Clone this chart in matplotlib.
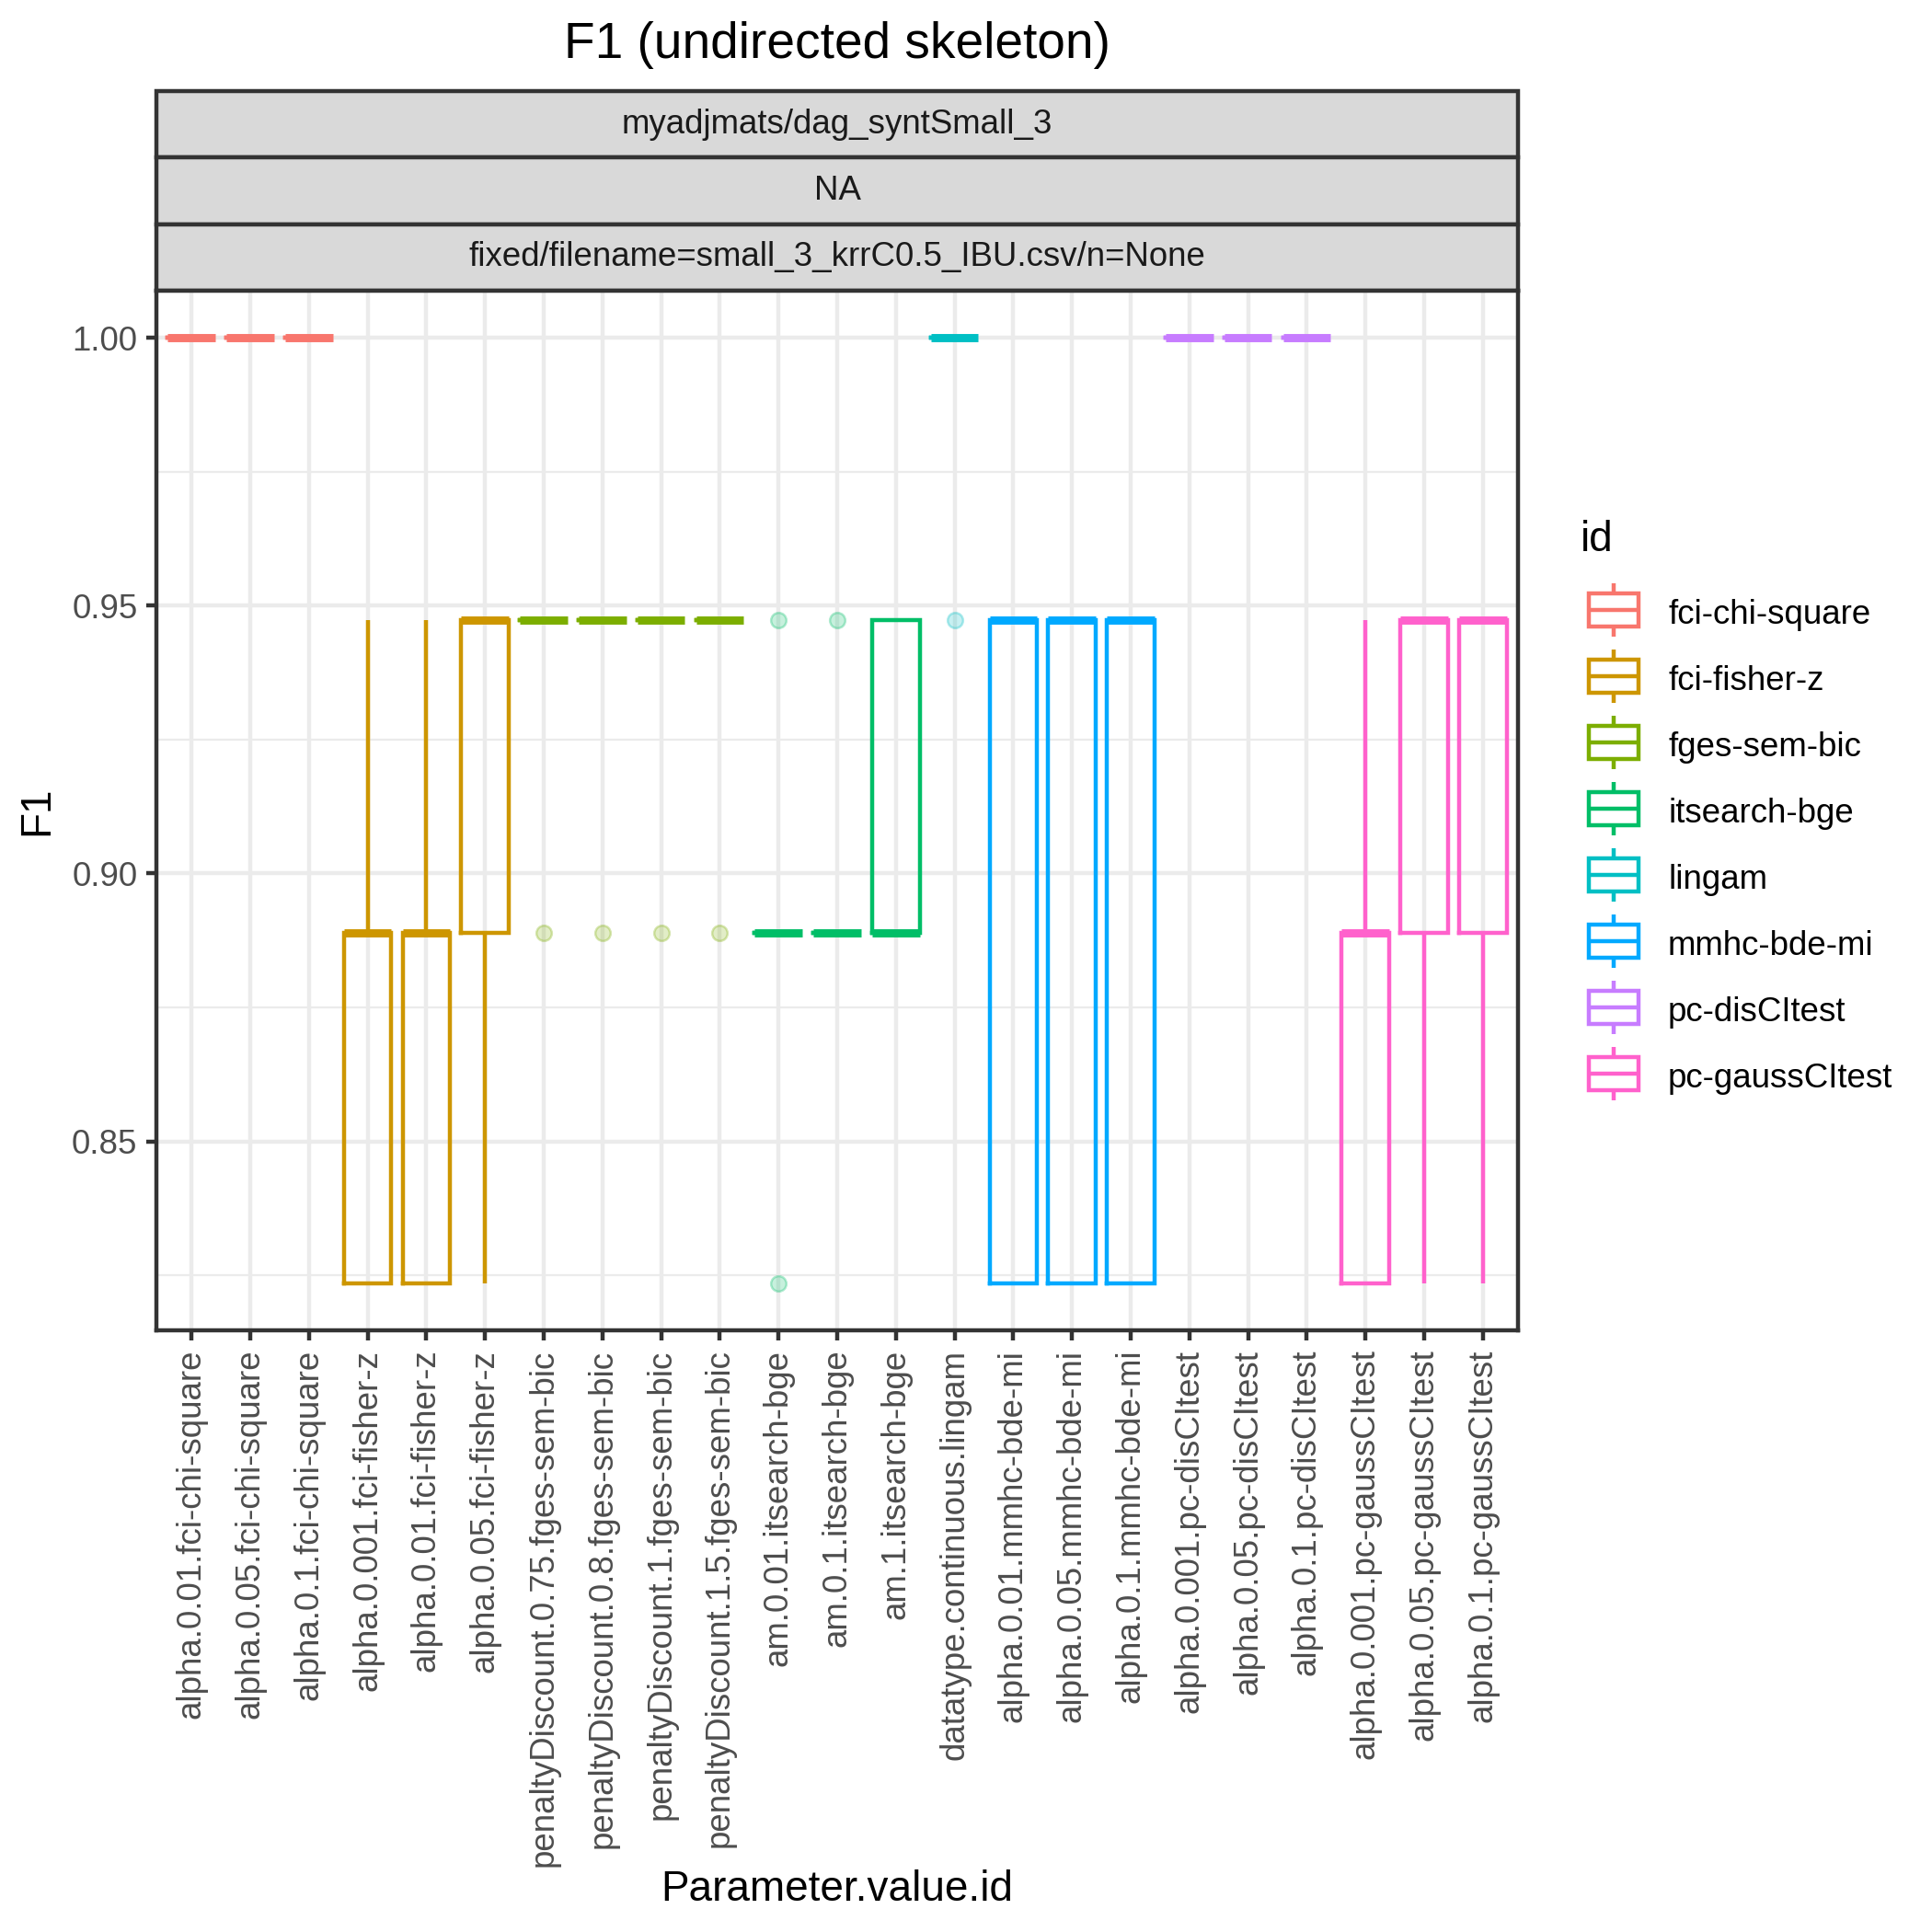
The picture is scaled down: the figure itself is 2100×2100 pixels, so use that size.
import matplotlib
matplotlib.use("Agg")
import matplotlib.pyplot as plt
from matplotlib.patches import Rectangle
from matplotlib.lines import Line2D
from matplotlib.colors import to_rgba
import numpy as np

plt.rcParams['font.family'] = ['Liberation Sans', 'DejaVu Sans']

# ---------------- data ----------------
categories = [
    "alpha.0.01.fci-chi-square", "alpha.0.05.fci-chi-square", "alpha.0.1.fci-chi-square",
    "alpha.0.001.fci-fisher-z", "alpha.0.01.fci-fisher-z", "alpha.0.05.fci-fisher-z",
    "penaltyDiscount.0.75.fges-sem-bic", "penaltyDiscount.0.8.fges-sem-bic",
    "penaltyDiscount.1.fges-sem-bic", "penaltyDiscount.1.5.fges-sem-bic",
    "am.0.01.itsearch-bge", "am.0.1.itsearch-bge", "am.1.itsearch-bge",
    "datatype.continuous.lingam",
    "alpha.0.01.mmhc-bde-mi", "alpha.0.05.mmhc-bde-mi", "alpha.0.1.mmhc-bde-mi",
    "alpha.0.001.pc-disCItest", "alpha.0.05.pc-disCItest", "alpha.0.1.pc-disCItest",
    "alpha.0.001.pc-gaussCItest", "alpha.0.05.pc-gaussCItest", "alpha.0.1.pc-gaussCItest",
]
group_ids = (["fci-chi-square"] * 3 + ["fci-fisher-z"] * 3 + ["fges-sem-bic"] * 4 +
             ["itsearch-bge"] * 3 + ["lingam"] + ["mmhc-bde-mi"] * 3 +
             ["pc-disCItest"] * 3 + ["pc-gaussCItest"] * 3)
id_levels = ["fci-chi-square", "fci-fisher-z", "fges-sem-bic", "itsearch-bge",
             "lingam", "mmhc-bde-mi", "pc-disCItest", "pc-gaussCItest"]
id_colors = ["#F8766D", "#CD9600", "#7CAE00", "#00BE67",
             "#00BFC4", "#00A9FF", "#C77CFF", "#FF61CC"]

f1_values = [
    [1.0, 1.0, 1.0, 1.0, 1.0],
    [1.0, 1.0, 1.0, 1.0, 1.0],
    [1.0, 1.0, 1.0, 1.0, 1.0],
    [0.8235, 0.8235, 0.8889, 0.8889, 0.9474],
    [0.8235, 0.8235, 0.8889, 0.8889, 0.9474],
    [0.8235, 0.8889, 0.9474, 0.9474, 0.9474],
    [0.8889, 0.9474, 0.9474, 0.9474, 0.9474],
    [0.8889, 0.9474, 0.9474, 0.9474, 0.9474],
    [0.8889, 0.9474, 0.9474, 0.9474, 0.9474],
    [0.8889, 0.9474, 0.9474, 0.9474, 0.9474],
    [0.8235, 0.8889, 0.8889, 0.8889, 0.9474],
    [0.8889, 0.8889, 0.8889, 0.8889, 0.9474],
    [0.8889, 0.8889, 0.8889, 0.9474, 0.9474],
    [0.9474, 1.0, 1.0, 1.0, 1.0],
    [0.8235, 0.8235, 0.9474, 0.9474, 0.9474],
    [0.8235, 0.8235, 0.9474, 0.9474, 0.9474],
    [0.8235, 0.8235, 0.9474, 0.9474, 0.9474],
    [1.0, 1.0, 1.0, 1.0, 1.0],
    [1.0, 1.0, 1.0, 1.0, 1.0],
    [1.0, 1.0, 1.0, 1.0, 1.0],
    [0.8235, 0.8235, 0.8889, 0.8889, 0.9474],
    [0.8235, 0.8889, 0.9474, 0.9474, 0.9474],
    [0.8235, 0.8889, 0.9474, 0.9474, 0.9474],
]
strip_labels = ["myadjmats/dag_syntSmall_3", "NA",
                "fixed/filename=small_3_krrC0.5_IBU.csv/n=None"]
y_ticks = [0.85, 0.90, 0.95, 1.00]
y_minor = [0.825, 0.875, 0.925, 0.975]

# ---------------- figure ----------------
W = H = 2100
fig = plt.figure(figsize=(7, 7), dpi=300)
fx = lambda px: px / W
fy = lambda py: 1 - py / H

LW = 1.07
BORDER = "#333333"

# overlay axes in pixel coordinates for strips / legend
ov = fig.add_axes([0, 0, 1, 1], zorder=0)
ov.set_xlim(0, W)
ov.set_ylim(H, 0)
ov.axis("off")

pl, pr, pt, pb = 170, 1650, 316, 1446
pc = (pl + pr) / 2
ax = fig.add_axes([fx(pl), fy(pb), (pr - pl) / W, (pb - pt) / H], zorder=1)

color_of = dict(zip(id_levels, id_colors))
positions = np.arange(1, len(categories) + 1)
bp = ax.boxplot(f1_values, positions=positions, widths=0.81, whis=1.5,
                showcaps=False, manage_ticks=False, patch_artist=False)
for i, gid in enumerate(group_ids):
    c = color_of[gid]
    b = bp['boxes'][i]
    b.set_color(c); b.set_linewidth(LW); b.set_solid_joinstyle('miter')
    for w in bp['whiskers'][2 * i:2 * i + 2]:
        w.set_color(c); w.set_linewidth(LW); w.set_solid_capstyle('butt')
    m = bp['medians'][i]
    m.set_color(c); m.set_linewidth(2 * LW); m.set_solid_capstyle('butt')
    f = bp['fliers'][i]
    f.set_marker('o'); f.set_markersize(4.0)
    f.set_markerfacecolor(to_rgba(c, 0.22))
    f.set_markeredgecolor(to_rgba(c, 0.3)); f.set_markeredgewidth(0.6)

ymin, ymax = 14 / 17, 1.0
rng = ymax - ymin
ax.set_ylim(ymin - 0.05 * rng, ymax + 0.05 * rng)
ax.set_xlim(0.4, len(categories) + 0.6)

ax.set_yticks(y_ticks)
ax.set_yticklabels([f"{v:.2f}" for v in y_ticks])
ax.set_yticks(y_minor, minor=True)
ax.set_xticks(positions)
ax.set_xticklabels(categories, rotation=90, ha='center', va='top')

ax.set_axisbelow(True)
ax.grid(which='major', axis='both', color='#EBEBEB', linewidth=LW)
ax.grid(which='minor', axis='y', color='#EBEBEB', linewidth=LW / 2)
for s in ax.spines.values():
    s.set_color(BORDER); s.set_linewidth(LW)
ax.tick_params(which='major', length=2.75, width=LW, color=BORDER,
               labelcolor='#4D4D4D', labelsize=8.8, pad=2.2)
ax.tick_params(which='minor', length=0)

# titles
ov.text(pc, 63, "F1 (undirected skeleton)", ha='center', va='baseline',
        fontsize=13.2, color='black')
ov.text(40, (pt + pb) / 2, "F1", ha='center', va='center', rotation=90,
        fontsize=11, color='black')
ov.text(pc, 2066, "Parameter.value.id", ha='center', va='baseline',
        fontsize=11, color='black')

# strips
strip_top = 99
sh = (pt - strip_top) / 3
for k, lab in enumerate(strip_labels):
    y0 = strip_top + k * sh
    ov.add_patch(Rectangle((pl, y0), pr - pl, sh, facecolor='#D9D9D9',
                           edgecolor=BORDER, linewidth=LW))
    ov.text(pc, y0 + sh / 2, lab, ha='center', va='center',
            fontsize=8.8, color='#1A1A1A')

# legend
kx, ky0, ks = 1718, 663, 72
ov.text(kx, 599, "id", ha='left', va='baseline', fontsize=11, color='black')
for i, (lab, c) in enumerate(zip(id_levels, id_colors)):
    cy = ky0 + i * ks
    ov.add_line(Line2D([kx + ks / 2] * 2, [cy - 0.4 * ks, cy - 0.25 * ks],
                       color=c, linewidth=LW, solid_capstyle='butt'))
    ov.add_line(Line2D([kx + ks / 2] * 2, [cy + 0.25 * ks, cy + 0.4 * ks],
                       color=c, linewidth=LW, solid_capstyle='butt'))
    ov.add_patch(Rectangle((kx + 0.125 * ks, cy - 0.25 * ks), 0.75 * ks, 0.5 * ks,
                           facecolor='none', edgecolor=c, linewidth=LW))
    ov.add_line(Line2D([kx + 0.125 * ks, kx + 0.875 * ks], [cy, cy],
                       color=c, linewidth=LW, solid_capstyle='butt'))
    ov.text(kx + ks + 23, cy + 5, lab, ha='left', va='center', fontsize=8.8,
            color='black')

fig.savefig("out.png", dpi=300)
